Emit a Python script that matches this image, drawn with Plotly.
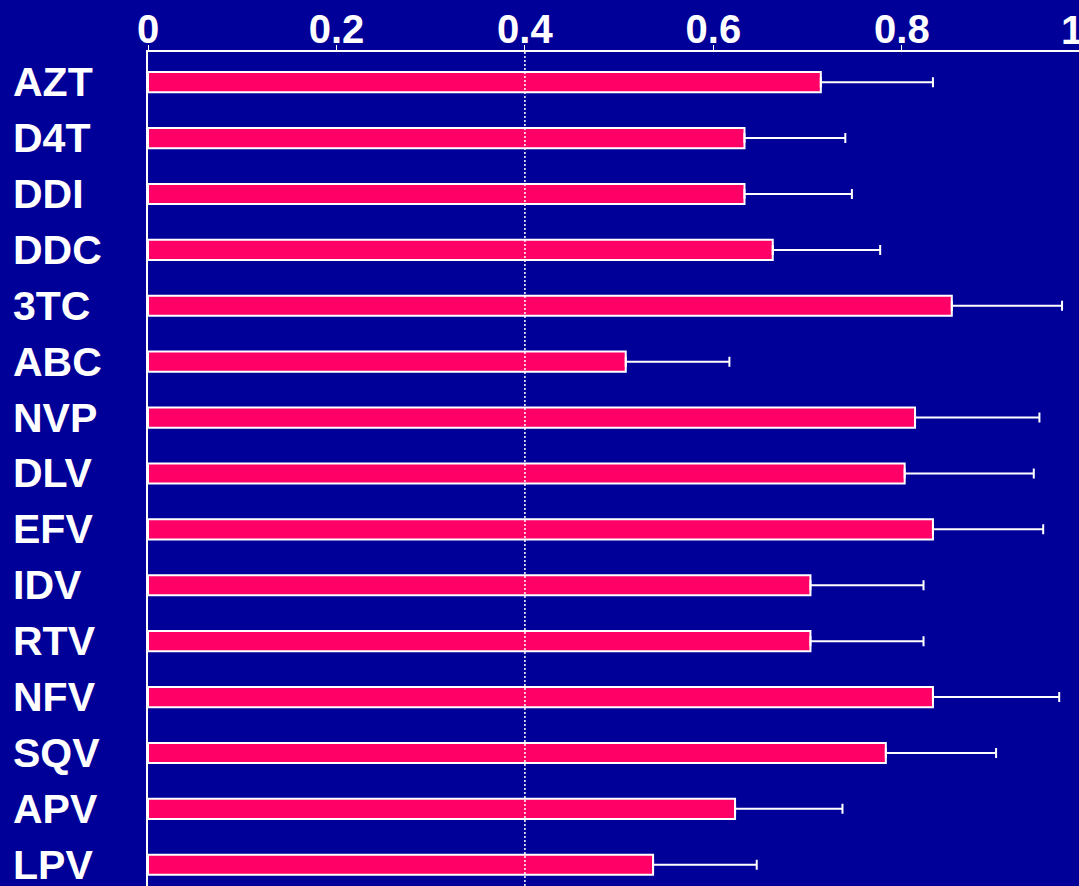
import plotly.graph_objects as go

# Drug names, top to bottom
drugs = ["AZT", "D4T", "DDI", "DDC", "3TC", "ABC", "NVP", "DLV", "EFV",
         "IDV", "RTV", "NFV", "SQV", "APV", "LPV"]

# Mean values and upper error for each drug
means = [0.714, 0.633, 0.633, 0.663, 0.853, 0.507, 0.814, 0.803, 0.833,
         0.703, 0.703, 0.833, 0.783, 0.623, 0.536]
upper_err = [0.119, 0.107, 0.114, 0.114, 0.117, 0.110, 0.132, 0.137, 0.117,
             0.120, 0.120, 0.134, 0.117, 0.114, 0.110]

# Axis ticks along the top
tick_vals = [0, 0.2, 0.4, 0.6, 0.8]
tick_text = ["0", "0.2", "0.4", "0.6", "0.8"]

BG = "#000099"
BAR = "#FF0066"
FONT = "Liberation Sans, Arial, sans-serif"

fig = go.Figure()
fig.add_trace(go.Bar(
    x=means,
    y=drugs,
    orientation="h",
    width=0.36,
    marker=dict(color=BAR, line=dict(color="white", width=2)),
    error_x=dict(type="data", array=upper_err, arrayminus=[0] * len(drugs),
                 symmetric=False, color="white", thickness=2, width=5),
    showlegend=False,
))

# Dotted reference line at 0.4
fig.add_vline(x=0.4, line=dict(color="white", width=1.5, dash="2px,2px"),
              layer="above")

# Left-aligned drug labels
for d in drugs:
    fig.add_annotation(x=0, xref="paper", xshift=-137, xanchor="left",
                       y=d, yref="y", text="<b>%s</b>" % d, showarrow=False,
                       font=dict(family=FONT, size=41, color="white"))

# Final top tick label, running off the right edge
fig.add_annotation(x=1, xref="paper", xanchor="left", xshift=-20,
                   y=1, yref="paper", yanchor="bottom", yshift=-2,
                   text="<b>1</b>", showarrow=False,
                   font=dict(family=FONT, size=40, color="white"))

fig.update_layout(
    width=1079, height=886,
    margin=dict(l=148, r=0, t=52, b=0, autoexpand=False),
    paper_bgcolor=BG, plot_bgcolor=BG,
    font=dict(family=FONT, color="white"),
    xaxis=dict(
        side="top", range=[0, 0.988], automargin=False,
        tickvals=tick_vals, ticktext=["<b>%s</b>" % t for t in tick_text],
        tickfont=dict(family=FONT, size=40, color="white"),
        ticklabelstandoff=-14,
        showgrid=False, zeroline=False,
        showline=True, linecolor="white", linewidth=2,
        ticks="outside", ticklen=5, tickcolor="white", tickwidth=1,
    ),
    yaxis=dict(
        type="category", range=[14.38, -0.54], automargin=False,
        showticklabels=False, showgrid=False, zeroline=False,
        showline=True, linecolor="white", linewidth=2, ticks="",
    ),
)

fig.write_html("out.html")
